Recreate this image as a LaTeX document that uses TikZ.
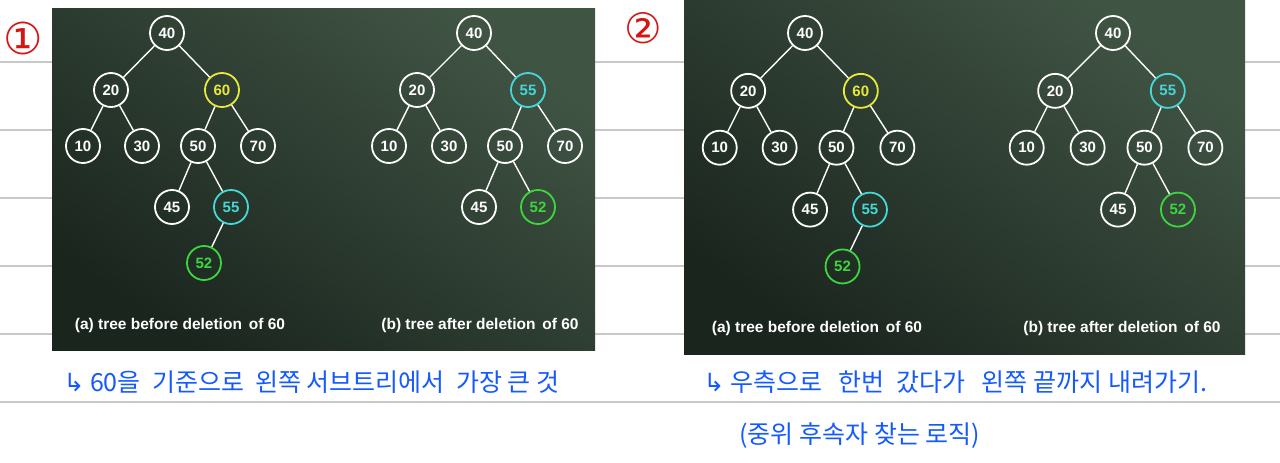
\documentclass[tikz,border=0pt]{standalone}
\usepackage{fontspec}
\setmainfont{Liberation Sans}
\newfontfamily\handfont{Noto Sans CJK KR}
\newfontfamily\symfont{DejaVu Sans}
\usetikzlibrary{positioning}
\definecolor{boardlight}{RGB}{64,84,68}
\definecolor{boarddark}{RGB}{26,37,30}
\definecolor{ruleline}{RGB}{200,200,200}
\definecolor{chalkyellow}{RGB}{232,232,60}
\definecolor{chalkcyan}{RGB}{70,215,215}
\definecolor{chalkgreen}{RGB}{60,215,60}
\definecolor{penblue}{RGB}{20,90,255}
\definecolor{penred}{RGB}{215,20,20}

% tree before deleting 60, root at the scope origin
\newcommand{\treebefore}[1]{%
  \node[nd] (#140) at (0,0) {40};
  \node[nd] (#120) at (-56,57) {20};
  \node[nd,yel] (#160) at (55,57) {60};
  \node[nd] (#110) at (-84,113) {10};
  \node[nd] (#130) at (-25,113) {30};
  \node[nd] (#150) at (31,113) {50};
  \node[nd] (#170) at (91,113) {70};
  \node[nd] (#145) at (5,174) {45};
  \node[nd,cya] (#155) at (64,174) {55};
  \node[nd,gre] (#152) at (37,230) {52};
  \draw[edge] (#140) -- (#120);
  \draw[edge] (#140) -- (#160);
  \draw[edge] (#120) -- (#110);
  \draw[edge] (#120) -- (#130);
  \draw[edge] (#160) -- (#150);
  \draw[edge] (#160) -- (#170);
  \draw[edge] (#150) -- (#145);
  \draw[edge] (#150) -- (#155);
  \draw[edge] (#155) -- (#152);
}
% tree after deleting 60
\newcommand{\treeafter}[1]{%
  \node[nd] (#140) at (0,0) {40};
  \node[nd] (#120) at (-57,57) {20};
  \node[nd,cya] (#155) at (54,57) {55};
  \node[nd] (#110) at (-85,113) {10};
  \node[nd] (#130) at (-25,113) {30};
  \node[nd] (#150) at (31,113) {50};
  \node[nd] (#170) at (91,113) {70};
  \node[nd] (#145) at (5,174) {45};
  \node[nd,gre] (#152) at (64,174) {52};
  \draw[edge] (#140) -- (#120);
  \draw[edge] (#140) -- (#155);
  \draw[edge] (#120) -- (#110);
  \draw[edge] (#120) -- (#130);
  \draw[edge] (#155) -- (#150);
  \draw[edge] (#155) -- (#170);
  \draw[edge] (#150) -- (#145);
  \draw[edge] (#150) -- (#152);
}

\begin{document}
\begin{tikzpicture}[
  x=1pt, y=-1pt,
  nd/.style={circle,draw=white,line width=1.8pt,minimum size=34pt,inner sep=0pt,
             text=white,font=\bfseries\fontsize{15}{15}\selectfont},
  yel/.style={draw=chalkyellow,text=chalkyellow},
  cya/.style={draw=chalkcyan,text=chalkcyan},
  gre/.style={draw=chalkgreen,text=chalkgreen},
  edge/.style={draw=white,line width=1.4pt},
  captxt/.style={text=white,font=\bfseries\fontsize{15.5}{16}\selectfont},
  note/.style={text=penblue,font=\handfont\fontsize{25}{27}\selectfont,anchor=west}
]
\useasboundingbox (0,0) rectangle (1280,463);
\fill[white] (0,0) rectangle (1280,463);
% notebook rules
\foreach \y in {62,130,198,266,334,402}
  \draw[ruleline,line width=2pt] (0,\y) -- (1280,\y);

% boards
\shade[top color=boardlight,bottom color=boarddark,shading angle=-35] (52,8) rectangle (595,350);
\shade[top color=boardlight,bottom color=boarddark,shading angle=-35] (684,0) rectangle (1245,354);

\begin{scope}[shift={(167,33)}] \treebefore{pa} \end{scope}
\begin{scope}[shift={(474,33)}] \treeafter{pb} \end{scope}
\begin{scope}[shift={(805,33)},scale=1.015] \treebefore{qa} \end{scope}
\begin{scope}[shift={(1113,33)},scale=1.015] \treeafter{qb} \end{scope}

\node[captxt] (capPa) at (180,325) {(a) tree before deletion\, of 60};
\node[captxt] (capPb) at (480,325) {(b) tree after deletion\, of 60};
\node[captxt] (capQa) at (817,328) {(a) tree before deletion\, of 60};
\node[captxt] (capQb) at (1122,328) {(b) tree after deletion\, of 60};

% handwritten marks
\node[text=penred,font=\symfont\fontsize{44}{44}\selectfont] (num1) at (23,38) {①};
\node[text=penred,font=\symfont\fontsize{42}{42}\selectfont] (num2) at (643,28) {②};
\node[note] (note1) at (60,382) {{\symfont↳} 60을\ \ 기준으로\ \ 왼쪽\ 서브트리에서\ \ 가장 큰 것};
\node[note] (note2) at (700,382) {{\symfont↳} 우측으로\ \ \ 한번\ \ 갔다가\ \ \ 왼쪽 끝까지 내려가기.};
\node[note] (note3) at (736,436) {(중위 후속자 찾는 로직)};
\end{tikzpicture}
\end{document}
